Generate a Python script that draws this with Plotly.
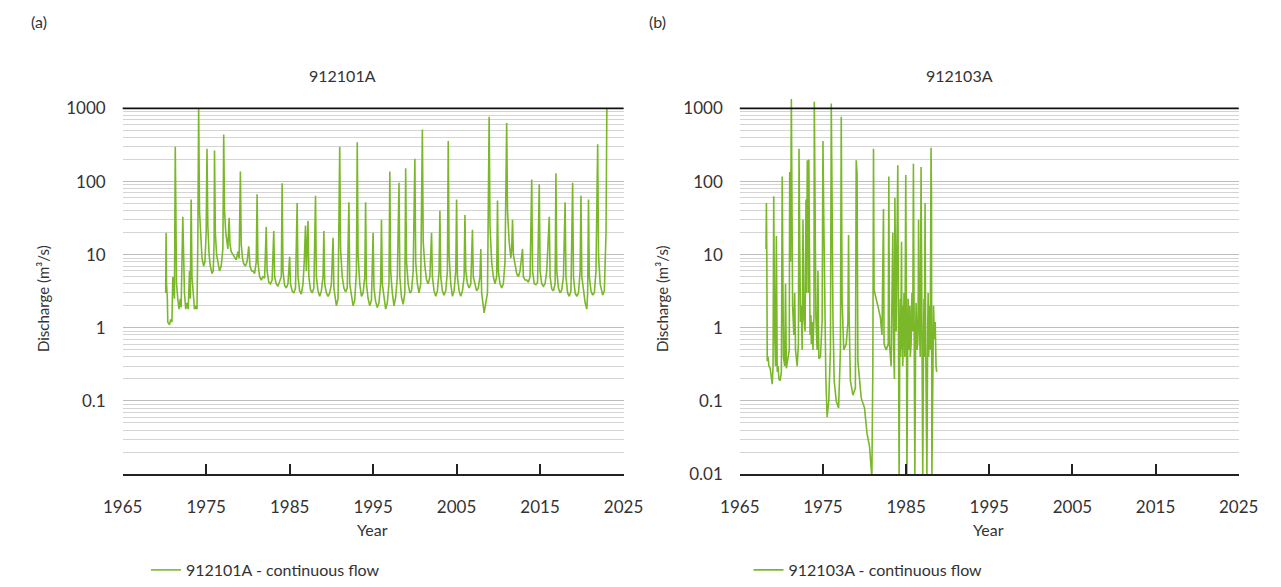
import plotly.graph_objects as go

# ---------------- data ----------------
# 912101A - continuous flow (year, discharge m3/s)
years_a = [
    1970.15, 1970.2, 1970.25, 1970.35, 1970.4, 1970.6, 1970.75, 1970.9, 1971.0, 1971.2,
    1971.3, 1971.35, 1971.45, 1971.6, 1971.75, 1971.9, 1972.0, 1972.2, 1972.3, 1972.4,
    1972.55, 1972.7, 1972.85, 1973.0, 1973.1, 1973.2, 1973.3, 1973.45, 1973.6, 1973.75,
    1973.9, 1974.0, 1974.1, 1974.2, 1974.35, 1974.5, 1974.7, 1974.85, 1975.0, 1975.1,
    1975.2, 1975.35, 1975.5, 1975.7, 1975.85, 1975.95, 1976.0, 1976.1, 1976.25, 1976.45,
    1976.6, 1976.8, 1977.0, 1977.1, 1977.2, 1977.35, 1977.5, 1977.6, 1977.75, 1977.85,
    1978.0, 1978.2, 1978.4, 1978.6, 1978.8, 1978.95, 1979.1, 1979.2, 1979.35, 1979.5,
    1979.7, 1979.9, 1980.1, 1980.25, 1980.45, 1980.6, 1980.8, 1981.0, 1981.1, 1981.2,
    1981.4, 1981.6, 1981.8, 1982.0, 1982.2, 1982.3, 1982.5, 1982.7, 1982.9, 1983.1,
    1983.2, 1983.4, 1983.6, 1983.8, 1984.0, 1984.1, 1984.2, 1984.4, 1984.6, 1984.8,
    1985.0, 1985.1, 1985.3, 1985.5, 1985.7, 1985.9, 1986.0, 1986.2, 1986.4, 1986.6,
    1986.75, 1986.9, 1987.0, 1987.2, 1987.3, 1987.5, 1987.7, 1987.9, 1988.1, 1988.2,
    1988.4, 1988.6, 1988.8, 1989.0, 1989.1, 1989.2, 1989.4, 1989.6, 1989.8, 1990.0,
    1990.2, 1990.3, 1990.5, 1990.6, 1990.8, 1991.0, 1991.1, 1991.3, 1991.5, 1991.7,
    1991.9, 1992.1, 1992.2, 1992.4, 1992.6, 1992.8, 1993.0, 1993.1, 1993.2, 1993.4,
    1993.6, 1993.8, 1994.0, 1994.1, 1994.2, 1994.4, 1994.6, 1994.8, 1995.0, 1995.1,
    1995.3, 1995.5, 1995.7, 1995.9, 1996.0, 1996.1, 1996.3, 1996.5, 1996.7, 1996.9,
    1997.0, 1997.1, 1997.3, 1997.5, 1997.7, 1997.9, 1998.1, 1998.2, 1998.4, 1998.6,
    1998.8, 1998.9, 1999.0, 1999.2, 1999.4, 1999.6, 1999.8, 2000.0, 2000.1, 2000.3,
    2000.5, 2000.7, 2000.9, 2001.0, 2001.2, 2001.4, 2001.6, 2001.8, 2002.0, 2002.1,
    2002.3, 2002.5, 2002.7, 2002.9, 2003.0, 2003.1, 2003.3, 2003.5, 2003.7, 2003.9,
    2004.0, 2004.1, 2004.3, 2004.5, 2004.7, 2004.9, 2005.0, 2005.1, 2005.3, 2005.5,
    2005.7, 2005.9, 2006.0, 2006.1, 2006.3, 2006.5, 2006.7, 2006.9, 2007.0, 2007.2,
    2007.4, 2007.6, 2007.8, 2007.9, 2008.0, 2008.2, 2008.3, 2008.5, 2008.7, 2008.9,
    2009.0, 2009.2, 2009.4, 2009.6, 2009.8, 2009.9, 2010.0, 2010.2, 2010.4, 2010.6,
    2010.8, 2011.0, 2011.1, 2011.3, 2011.5, 2011.6, 2011.7, 2011.8, 2012.0, 2012.2,
    2012.4, 2012.6, 2012.9, 2013.0, 2013.2, 2013.4, 2013.6, 2013.8, 2014.0, 2014.1,
    2014.3, 2014.5, 2014.7, 2014.9, 2015.0, 2015.2, 2015.4, 2015.6, 2015.8, 2016.1,
    2016.2, 2016.4, 2016.6, 2016.8, 2016.9, 2017.0, 2017.2, 2017.4, 2017.6, 2017.8,
    2018.0, 2018.1, 2018.3, 2018.5, 2018.7, 2018.9, 2019.0, 2019.2, 2019.4, 2019.6,
    2019.8, 2019.9, 2020.0, 2020.2, 2020.4, 2020.6, 2020.7, 2020.8, 2020.9, 2021.1,
    2021.3, 2021.5, 2021.7, 2021.9, 2022.0, 2022.2, 2022.4, 2022.5, 2022.7, 2022.9,
    2023.0,
]
flow_a = [
    3, 20, 4, 2.5, 1.2, 1.1, 1.3, 1.2, 5, 2.5,
    300, 12, 4, 2.5, 1.8, 2.5, 1.9, 33, 6, 3,
    1.8, 2.2, 1.8, 6, 2.5, 57, 5, 2.5, 1.8, 2.0,
    1.8, 15, 1000, 40, 15, 9, 7, 8, 20, 280,
    25, 10, 7, 5.5, 6, 15, 265, 20, 10, 7,
    6, 7, 12, 440, 40, 20, 14, 12, 32, 14,
    11, 10, 9, 8.5, 11, 9, 137, 14, 9, 7.5,
    7, 8, 13, 7, 6, 6, 5.5, 8, 67, 8,
    5, 4.5, 5, 4.8, 24, 6, 4.2, 4, 4.5, 21,
    5, 4, 3.7, 4.2, 5, 95, 6, 3.8, 3.5, 4,
    9.4, 4, 3.2, 3.0, 3.5, 51, 5, 3.2, 2.9, 4,
    8, 25, 6, 29, 5, 3.3, 3.0, 3.5, 64, 5,
    3.2, 2.7, 3.2, 5, 21, 4, 3.0, 2.7, 3.0, 4,
    17, 3.5, 2.4, 2.0, 2.5, 300, 12, 5, 3.5, 3.1,
    3.5, 52, 4, 2.6, 2.0, 2.4, 6, 345, 10, 4,
    2.7, 3.0, 5, 52, 4, 2.5, 2.0, 2.4, 20, 3.5,
    2.3, 1.9, 2.2, 4, 30, 4, 2.4, 1.8, 2.2, 4,
    137, 6, 3, 2.0, 2.6, 5, 96, 5, 2.6, 2.1,
    3, 152, 8, 4, 3.0, 3.2, 6, 205, 8, 4,
    3.0, 4, 515, 15, 7, 4.5, 4, 5, 20, 5,
    3.2, 2.7, 3.2, 6, 40, 5, 3.2, 2.8, 3.2, 6,
    360, 10, 4, 2.7, 3.2, 6, 57, 5, 3.2, 2.7,
    3.2, 5, 35, 6, 4, 3.5, 4, 22, 5, 3.8,
    3.2, 3.5, 5, 12, 3, 2, 1.6, 2.2, 3, 770,
    25, 8, 5, 4, 5, 55, 6, 4, 3.5, 4,
    8, 630, 40, 15, 9, 12, 30, 10, 7, 5.5,
    5, 6, 12, 5, 4.5, 4.5, 4.2, 5, 107, 6,
    4, 3.9, 4.2, 92, 6, 4, 3.7, 4, 6, 33,
    5, 3.4, 3.2, 4, 130, 6, 3.5, 3.0, 3.3, 5,
    52, 5, 3.0, 2.7, 3.2, 96, 5, 3.0, 2.7, 3.0,
    6, 64, 5, 3, 2.2, 1.8, 3, 57, 5, 3.2,
    2.8, 3, 6, 325, 10, 4, 3, 2.8, 3.2, 20,
    1000,
]

# 912103A - continuous flow (year, discharge m3/s)
years_b = [
    1968.15, 1968.2, 1968.25, 1968.3, 1968.4, 1968.5, 1968.65, 1968.8, 1968.9, 1969.0,
    1969.08, 1969.12, 1969.2, 1969.3, 1969.4, 1969.5, 1969.6, 1969.7, 1969.85, 1970.0,
    1970.1, 1970.15, 1970.25, 1970.4, 1970.5, 1970.6, 1970.8, 1970.95, 1971.0, 1971.1,
    1971.2, 1971.28, 1971.35, 1971.5, 1971.6, 1971.7, 1971.9, 1972.05, 1972.12, 1972.2,
    1972.3, 1972.4, 1972.5, 1972.6, 1972.7, 1972.85, 1972.96, 1973.0, 1973.12, 1973.2,
    1973.24, 1973.3, 1973.45, 1973.55, 1973.6, 1973.7, 1973.8, 1973.92, 1973.96, 1974.05,
    1974.15, 1974.3, 1974.4, 1974.5, 1974.7, 1974.9, 1975.0, 1975.1, 1975.2, 1975.35,
    1975.5, 1975.7, 1975.9, 1976.0, 1976.1, 1976.2, 1976.35, 1976.6, 1976.88, 1977.1,
    1977.2, 1977.3, 1977.5, 1977.8, 1978.0, 1978.08, 1978.15, 1978.3, 1978.6, 1978.9,
    1979.0, 1979.1, 1979.2, 1979.4, 1979.6, 1980.0, 1980.3, 1980.6, 1980.88, 1981.0,
    1981.08, 1981.15, 1981.3, 1981.6, 1981.9, 1982.1, 1982.28, 1982.35, 1982.6, 1982.85,
    1982.92, 1983.0, 1983.2, 1983.4, 1983.5, 1983.6, 1983.65, 1983.8, 1984.0, 1984.05,
    1984.1, 1984.16, 1984.25, 1984.3, 1984.35, 1984.45, 1984.5, 1984.55, 1984.6, 1984.7,
    1984.75, 1984.85, 1984.96, 1985.05, 1985.1, 1985.2, 1985.25, 1985.3, 1985.4, 1985.45,
    1985.5, 1985.6, 1985.7, 1985.8, 1985.88, 1985.95, 1986.05, 1986.15, 1986.2, 1986.3,
    1986.4, 1986.45, 1986.5, 1986.6, 1986.7, 1986.8, 1986.9, 1987.0, 1987.1, 1987.15,
    1987.2, 1987.28, 1987.35, 1987.5, 1987.6, 1987.65, 1987.7, 1987.8, 1987.85, 1987.9,
    1988.0, 1988.05, 1988.1, 1988.2, 1988.25, 1988.3, 1988.4, 1988.5, 1988.6, 1988.68,
]
flow_b = [
    12, 51, 9, 0.35, 0.4, 0.3, 0.28, 0.2, 0.17, 0.3,
    63, 13, 0.8, 0.3, 18, 0.25, 0.3, 0.2, 0.19, 0.25,
    117, 12, 0.4, 0.3, 4, 0.28, 0.4, 0.5, 135, 8,
    1350, 20, 2, 0.8, 3, 0.5, 0.3, 0.6, 280, 18,
    1.2, 2, 0.5, 30, 1.4, 0.9, 57, 3, 195, 140,
    3, 200, 0.8, 1.5, 0.6, 1.2, 0.5, 1.5, 1230, 14,
    1.4, 0.5, 6, 0.38, 0.4, 1.2, 360, 31, 2, 0.2,
    0.06, 0.1, 0.5, 1170, 51, 1.4, 0.19, 0.1, 0.08, 0.5,
    770, 2.4, 0.5, 0.6, 1.2, 18.6, 1.4, 0.19, 0.12, 0.15,
    195, 130, 0.35, 0.2, 0.11, 0.08, 0.036, 0.024, 0.009, 0.3,
    280, 3.3, 2.7, 2.0, 1.4, 0.8, 42, 0.6, 0.5, 0.6,
    117, 0.6, 0.3, 20, 0.5, 0.2, 60, 0.9, 167, 2,
    0.5, 0.009, 1.0, 2.5, 0.4, 15, 0.5, 2, 0.3, 0.9,
    3, 0.4, 123, 0.8, 0.009, 0.8, 2.5, 0.5, 1.1, 2,
    0.4, 0.6, 3, 0.9, 175, 0.7, 0.009, 0.9, 2.2, 0.5,
    0.6, 2, 30, 1.0, 0.4, 158, 0.6, 0.009, 0.8, 2.5,
    0.4, 51, 0.7, 0.009, 1.0, 3, 0.4, 0.7, 2, 0.5,
    290, 70, 0.009, 1.2, 0.5, 2, 0.7, 1.2, 0.3, 0.25,
]

year_ticks = [1965, 1975, 1985, 1995, 2005, 2015, 2025]
major_vals = [0.01, 0.1, 1, 10, 100, 1000]
labels_a = ["", "0.1", "1", "10", "100", "1000"]
labels_b = ["0.01", "0.1", "1", "10", "100", "1000"]
minor_vals = [k * 10.0 ** e for e in range(-2, 3) for k in range(2, 10)]

# ---------------- style ----------------
W, H = 1281, 587
GREEN = "#7ab82a"
FONT = "Lato, 'Open Sans', sans-serif"
TXT = "#333333"


def px(x):
    return x / W


def py(y):
    return 1 - y / H


fig = go.Figure()
fig.add_trace(go.Scatter(x=years_a, y=flow_a, mode="lines",
                         line=dict(color=GREEN, width=1.6),
                         name="912101A - continuous flow",
                         xaxis="x", yaxis="y", legend="legend"))
fig.add_trace(go.Scatter(x=years_b, y=flow_b, mode="lines",
                         line=dict(color=GREEN, width=1.6),
                         name="912103A - continuous flow",
                         xaxis="x2", yaxis="y2", legend="legend2"))

y_1000, y_bot = 110.7, 484
decade = (y_bot - y_1000) / 5
y_top = y_1000 - 0.15 * decade
ydom = [py(y_bot), py(y_top)]


def xaxis_cfg(dom, anchor):
    return dict(domain=dom, anchor=anchor, range=[1965, 2025], tickvals=year_ticks,
                showgrid=False, zeroline=False, showline=True, linecolor="#222",
                linewidth=1.5, ticks="inside", ticklen=10, tickwidth=1.5,
                tickcolor="#222", ticklabelstandoff=17,
                tickfont=dict(family=FONT, size=17, color=TXT))


def yaxis_cfg(anchor, labels):
    return dict(domain=ydom, anchor=anchor, type="log", range=[-2, 3.15],
                tickvals=major_vals, ticktext=labels, showgrid=True,
                gridcolor="#bdbdbd", gridwidth=1, zeroline=False, showline=False,
                ticks="", ticklabelstandoff=16,
                minor=dict(tickvals=minor_vals, showgrid=True,
                           gridcolor="#d4d4d4", gridwidth=1, ticks=""),
                tickfont=dict(family=FONT, size=17, color=TXT))


fig.update_layout(
    width=W, height=H,
    margin=dict(l=0, r=0, t=0, b=0),
    paper_bgcolor="white", plot_bgcolor="white",
    font=dict(family=FONT, size=16, color=TXT),
    xaxis=xaxis_cfg([px(106), px(623)], "y"),
    yaxis=yaxis_cfg("x", labels_a),
    xaxis2=xaxis_cfg([px(743), px(1258)], "y2"),
    yaxis2=yaxis_cfg("x2", labels_b),
    legend=dict(x=px(130), y=py(565), xanchor="left", yanchor="top",
                orientation="h", font=dict(family=FONT, size=16, color=TXT),
                bgcolor="rgba(0,0,0,0)"),
    legend2=dict(x=px(752), y=py(565), xanchor="left", yanchor="top",
                 orientation="h", font=dict(family=FONT, size=16, color=TXT),
                 bgcolor="rgba(0,0,0,0)"),
    showlegend=True,
)

# black top line at 1000 in each panel
for xr, yr in (("x domain", "y"), ("x2 domain", "y2")):
    fig.add_shape(type="line", xref=xr, yref=yr, x0=0, x1=1, y0=1000, y1=1000,
                  line=dict(color="#111111", width=1.8), layer="above")

ann = [
    ("(a)", 20, 22, 0, 16),
    ("(b)", 658, 22, 0, 16),
    ("912101A", 333, 77, 0, 16),
    ("912103A", 970, 77, 0, 16),
    ("Year", 364, 541, 0, 16),
    ("Year", 1000, 541, 0, 16),
    ("Discharge (m³/s)", 23, 305, -90, 15),
    ("Discharge (m³/s)", 662, 305, -90, 15),
]
for text, x, y, ang, size in ann:
    fig.add_annotation(text=text, x=px(x), y=py(y), xref="paper", yref="paper",
                       showarrow=False, textangle=ang, xanchor="center", yanchor="middle",
                       font=dict(family=FONT, size=size, color=TXT))

fig.write_html("out.html")
